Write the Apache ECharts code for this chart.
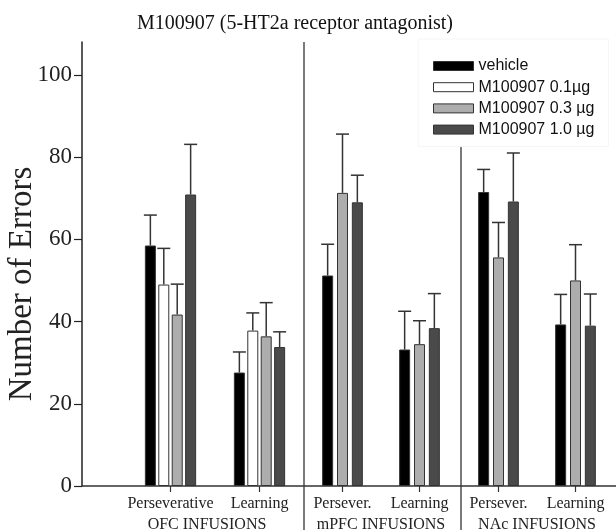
<!DOCTYPE html>
<html>
<head>
<meta charset="utf-8">
<script src="https://cdn.jsdelivr.net/npm/echarts@6/dist/echarts.min.js"></script>
<style>
  html, body { margin: 0; padding: 0; background: #fff; }
  #chart { width: 616px; height: 530px; }
</style>
</head>
<body>
<div id="chart"></div>
<script>
// groups and categories
const regions = ['OFC INFUSIONS', 'mPFC INFUSIONS', 'NAc INFUSIONS'];
const categories = [
  ['Perseverative', 'Learning'],
  ['Persever.', 'Learning'],
  ['Persever.', 'Learning']
];
const doseNames = ['vehicle', 'M100907 0.1µg', 'M100907 0.3 µg', 'M100907 1.0 µg'];

// mean errors, ordered OFC-pers, OFC-learn, mPFC-pers, mPFC-learn, NAc-pers, NAc-learn
const vehicle = [58.5, 27.6, 51.2, 33.2, 71.5, 39.3];
const dose01 = [49.0, 37.8, null, null, null, null];
const dose03 = [41.7, 36.4, 71.3, 34.5, 55.6, 50.0];
const dose10 = [70.9, 33.8, 69.0, 38.4, 69.2, 39.0];

// SEM (upper error bars)
const vehicleErr = [7.4, 5.0, 7.6, 9.3, 5.5, 7.3];
const dose01Err = [8.8, 4.3, null, null, null, null];
const dose03Err = [7.4, 8.2, 14.3, 5.7, 8.5, 8.7];
const dose10Err = [12.2, 3.7, 6.6, 8.4, 11.8, 7.7];

const yTicks = [0, 20, 40, 60, 80, 100];

const values = [vehicle, dose01, dose03, dose10];
const errors = [vehicleErr, dose01Err, dose03Err, dose10Err];
const colors = ['#000000', '#ffffff', '#adadad', '#4a4a4a'];

const serif = 'Liberation Serif';
const Y_MAX = 108;
const BAR_W = 11;
const GRID_TOP = 42;
const GRID_BOTTOM = 44;
const gridBoxes = [
  {left: 126, width: 178, gap: 0.22},
  {left: 304, width: 154, gap: 0.35},
  {left: 460, width: 154, gap: 0.35}
];

const grids = [{left: 82, right: 0, top: GRID_TOP, bottom: GRID_BOTTOM, outerBoundsMode: 'none'}];
const xAxes = [{
  type: 'value', gridIndex: 0, min: 0, max: 1,
  axisLine: {lineStyle: {color: '#333', width: 1.5}},
  axisTick: {show: false}, axisLabel: {show: false}, splitLine: {show: false}
}];
const yAxes = [{
  type: 'value', gridIndex: 0, min: 0, max: Y_MAX,
  name: 'Number of Errors', nameLocation: 'middle', nameRotate: 90, nameGap: 43,
  nameMoveOverlap: false,
  nameTextStyle: {fontFamily: serif, fontSize: 33, color: '#222', padding: [0, 40, 0, 0]},
  axisLine: {show: true, lineStyle: {color: '#222', width: 1.5}},
  axisTick: {show: true, length: 8, customValues: yTicks, lineStyle: {color: '#222', width: 1.2}},
  axisLabel: {customValues: yTicks, fontFamily: serif, fontSize: 23, color: '#222', margin: 10},
  splitLine: {show: false}
}];
const series = [];

regions.forEach((region, r) => {
  const box = gridBoxes[r];
  grids.push({left: box.left, width: box.width, top: GRID_TOP, bottom: GRID_BOTTOM, outerBoundsMode: 'none'});
  xAxes.push({
    type: 'category', gridIndex: r + 1, data: categories[r],
    name: region, nameLocation: 'middle', nameGap: 30,
    nameTextStyle: {fontFamily: serif, fontSize: 16, color: '#222', padding: r === 0 ? [0, 16, 0, 0] : 0},
    axisLine: {show: false},
    axisTick: {show: true, alignWithLabel: true, length: 6, lineStyle: {color: '#333', width: 1.2}},
    axisLabel: {fontFamily: serif, fontSize: 16, color: '#222', margin: 10, interval: 0}
  });
  yAxes.push({type: 'value', gridIndex: r + 1, min: 0, max: Y_MAX, show: false});

  const present = [];
  values.forEach((vals, d) => { if (vals[2 * r] != null) present.push(d); });
  const n = present.length;
  present.forEach((d, k) => {
    series.push({
      type: 'bar', name: doseNames[d],
      xAxisIndex: r + 1, yAxisIndex: r + 1,
      barWidth: BAR_W, barGap: (box.gap * 100) + '%',
      itemStyle: {color: colors[d], borderColor: '#333', borderWidth: 1},
      emphasis: {disabled: true},
      data: [values[d][2 * r], values[d][2 * r + 1]]
    });
    series.push({
      type: 'custom',
      xAxisIndex: r + 1, yAxisIndex: r + 1, z: 5,
      silent: true,
      data: [0, 1].map(c => [c, values[d][2 * r + c], errors[d][2 * r + c], k, n, box.gap]),
      renderItem: function (params, api) {
        const c = api.value(0), v = api.value(1), e = api.value(2);
        const kk = api.value(3), nn = api.value(4), g = api.value(5) * BAR_W;
        const base = api.coord([c, v]);
        const top = api.coord([c, v + e]);
        const total = nn * BAR_W + (nn - 1) * g;
        const x = base[0] - total / 2 + BAR_W / 2 + kk * (BAR_W + g);
        const st = {stroke: '#333', lineWidth: 1.5};
        return {
          type: 'group',
          children: [
            {type: 'line', shape: {x1: x, y1: base[1], x2: x, y2: top[1]}, style: st},
            {type: 'line', shape: {x1: x - 6.5, y1: top[1], x2: x + 6.5, y2: top[1]}, style: st}
          ]
        };
      }
    });
  });
});

const option = {
  animation: false,
  title: {
    text: 'M100907 (5-HT2a receptor antagonist)',
    left: 137, top: 14, padding: 0,
    textStyle: {fontFamily: serif, fontSize: 20, fontWeight: 'normal', color: '#111'}
  },
  legend: {
    data: doseNames,
    orient: 'vertical',
    left: 418, top: 39,
    itemWidth: 40, itemHeight: 9, itemGap: 5.2,
    icon: 'rect',
    padding: [19, 14, 9, 15],
    backgroundColor: '#ffffff',
    borderColor: '#f6f6f6', borderWidth: 1,
    itemStyle: {borderWidth: 1, borderColor: '#333'},
    textStyle: {fontFamily: 'Liberation Sans', fontSize: 16, color: '#111'},
    z: 10
  },
  graphic: [
    {type: 'line', z: 1, shape: {x1: 304, y1: GRID_TOP, x2: 304, y2: 530}, style: {stroke: '#333', lineWidth: 1.3}},
    {type: 'line', z: 1, shape: {x1: 461, y1: GRID_TOP, x2: 461, y2: 530}, style: {stroke: '#333', lineWidth: 1.3}}
  ],
  grid: grids,
  xAxis: xAxes,
  yAxis: yAxes,
  series: series
};

const myChart = echarts.init(document.getElementById('chart'));
myChart.setOption(option);
window.addEventListener('resize', function () {
  myChart.resize();
});
</script>
</body>
</html>
